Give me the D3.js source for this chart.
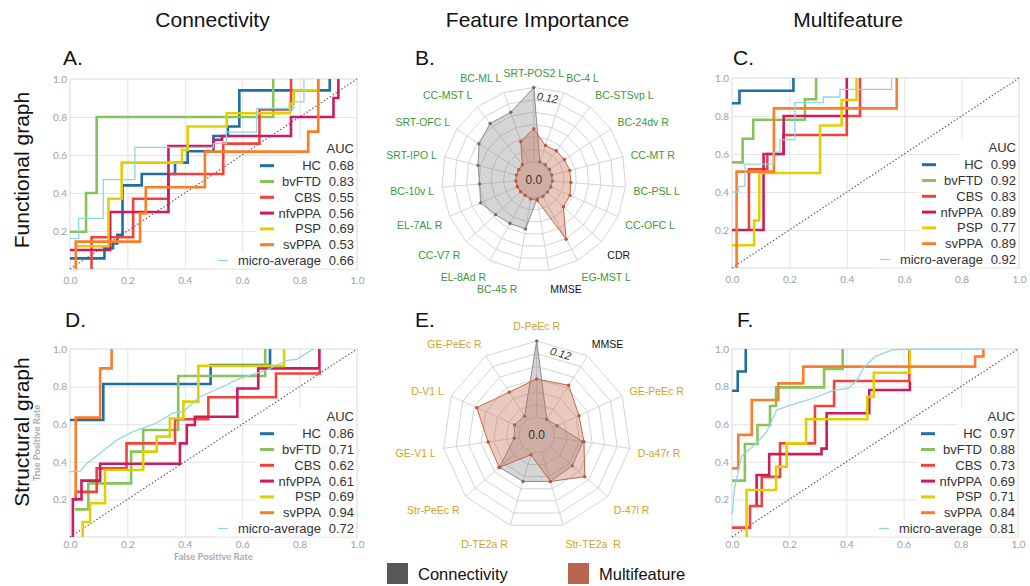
<!DOCTYPE html>
<html>
<head>
<meta charset="utf-8">
<script src="https://cdn.jsdelivr.net/npm/d3@7"></script>
<style>
  body { margin: 0; background: #fff; }
  text { font-family: "Liberation Sans", Arial, sans-serif; }
  .tick text { font-family: Lato, "Open Sans", sans-serif; }
</style>
</head>
<body>
<div id="chart"></div>
<script>
var width = 1030,
    height = 586;

// ---- ROC data: one [fpr, tpr] step list per class, in legend order ----
var classes = ["HC", "bvFTD", "CBS", "nfvPPA", "PSP", "svPPA", "micro-average"];
var colors = ["#1f6fa5", "#86c35b", "#f2433b", "#cc1b60", "#e0d000", "#fc7c28", "#8fd5e6"];

var rocA = [
  [[0,0.056],[0.12,0.11],[0.15,0.135],[0.165,0.18],[0.183,0.44],[0.25,0.5],[0.366,0.56],[0.41,0.62],[0.5,0.7],[0.55,0.75],[0.59,0.94],[0.905,1.0]],
  [[0,0.196],[0.056,0.4],[0.093,0.8],[0.708,1.0]],
  [[0.075,0],[0.075,0.167],[0.22,0.37],[0.343,0.5],[0.534,0.66],[0.66,0.84],[0.77,1.0]],
  [[0,0.1],[0.14,0.3],[0.343,0.647],[0.5,0.68],[0.53,0.7],[0.77,0.8],[0.918,0.9],[0.935,1.0]],
  [[0.02,0.12],[0.134,0.37],[0.18,0.56],[0.39,0.626],[0.41,0.75],[0.546,0.82],[0.766,0.87],[0.78,0.94],[0.865,1.0]],
  [[0.02,0],[0.02,0.144],[0.244,0.293],[0.264,0.43],[0.47,0.618],[0.83,0.723],[0.865,1.0]],
  [[0,0.16],[0.03,0.266],[0.116,0.47],[0.226,0.64],[0.5,0.66],[0.545,0.72],[0.65,0.845],[0.78,0.88],[0.815,1.0]]
];
var aucA = [0.68, 0.83, 0.55, 0.56, 0.69, 0.53, 0.66];

var rocC = [
  [[0,0.867],[0.026,0.933],[0.214,1.0]],
  [[0,0.556],[0.037,0.68],[0.074,0.78],[0.254,0.888],[0.293,1.0]],
  [[0.059,0.2],[0.059,0.52],[0.123,0.6],[0.179,0.7],[0.4,0.8],[0.446,1.0]],
  [[0,0.2],[0.11,0.6],[0.18,0.8],[0.4,1.0]],
  [[0,0.12],[0.077,0.25],[0.095,0.5],[0.307,0.75],[0.382,0.884],[0.434,1.0]],
  [[0.016,0],[0.016,0.507],[0.146,0.84],[0.574,1.0]],
  [[0,0.4],[0.022,0.43],[0.045,0.547],[0.144,0.61],[0.167,0.676],[0.219,0.87],[0.318,0.9],[0.376,0.94],[0.556,1.0]]
];
var aucC = [0.99, 0.92, 0.83, 0.89, 0.77, 0.89, 0.92];

var rocD = [
  [[0,0.622],[0.116,0.814],[0.49,0.915],[0.697,1.0]],
  [[0.017,0.147],[0.064,0.285],[0.213,0.454],[0.255,0.569],[0.377,0.856],[0.68,1.0]],
  [[0.02,0.2],[0.02,0.24],[0.093,0.365],[0.197,0.498],[0.366,0.626],[0.482,0.743],[0.718,0.87],[0.87,0.888]],
  [[0.01,0],[0.01,0.2],[0.04,0.3],[0.105,0.39],[0.383,0.498],[0.407,0.596],[0.435,0.64],[0.583,0.79],[0.656,0.897],[0.869,1.0]],
  [[0.044,0],[0.044,0.08],[0.07,0.18],[0.122,0.356],[0.255,0.454],[0.302,0.534],[0.348,0.63],[0.395,0.72],[0.447,0.91],[0.746,1.0]],
  [[0.02,0.215],[0.02,0.635],[0.105,0.897],[0.145,1.0]],
  [[0,0.347],[0.035,0.35],[0.058,0.39],[0.105,0.445],[0.163,0.516],[0.22,0.56],[0.3,0.605],[0.36,0.66],[0.395,0.667],[0.453,0.746],[0.546,0.81],[0.592,0.844],[0.685,0.888],[0.755,0.94],[0.79,0.945],[0.848,1.0]]
];
var aucD = [0.86, 0.71, 0.62, 0.61, 0.69, 0.94, 0.72];

var rocF = [
  [[0,0.778],[0.02,0.88],[0.048,1.0]],
  [[0,0.3],[0.045,0.495],[0.089,0.596],[0.133,0.697],[0.154,0.796],[0.322,0.894],[0.387,1.0]],
  [[0,0.05],[0.063,0.165],[0.104,0.32],[0.168,0.498],[0.29,0.697],[0.357,0.83],[0.62,1.0]],
  [[0.086,0.17],[0.086,0.33],[0.13,0.441],[0.313,0.47],[0.331,0.658],[0.48,0.782],[0.622,0.826]],
  [[0.051,0],[0.051,0.25],[0.154,0.374],[0.191,0.498],[0.259,0.626],[0.473,0.746],[0.496,0.874],[0.622,1.0]],
  [[0,0.365],[0.022,0.543],[0.069,0.729],[0.162,0.817],[0.249,0.906],[0.85,0.96],[0.879,1.0]],
  [[0,0.12],[0.01,0.27],[0.034,0.43],[0.086,0.5],[0.121,0.56],[0.156,0.676],[0.203,0.7],[0.284,0.738],[0.354,0.78],[0.407,0.79],[0.44,0.84],[0.46,0.9],[0.5,0.96],[0.56,0.995],[0.64,1.0],[0.88,1.0]]
];
var aucF = [0.97, 0.88, 0.73, 0.69, 0.71, 0.84, 0.81];

var rocTicks = [0.0, 0.2, 0.4, 0.6, 0.8, 1.0];

// ---- radar data (feature importance) ----
var featuresB = ["SRT-POS2 L", "BC-4 L", "BC-STSvp L", "BC-24dv R", "CC-MT R", "BC-PSL L", "CC-OFC L", "CDR",
  "EG-MST L", "MMSE", "BC-45 R", "EL-8Ad R", "CC-V7 R", "EL-7AL R", "BC-10v L", "SRT-IPO L", "SRT-OFC L", "CC-MST L", "BC-ML L"];
var connB = [0.12, 0.001, 0.001, 0.001, 0.001, 0.001, 0.001, 0.001, 0.002, 0.003, 0.052, 0.052, 0.055, 0.065, 0.059, 0.064, 0.077, 0.086, 0.086];
var multiB = [0.053, 0.029, 0.030, 0.030, 0.031, 0.031, 0.035, 0.036, 0.081, 0.005, 0.003, 0, 0, 0, 0, 0, 0, 0.001, 0.036];

var featuresE = ["D-PeEc R", "MMSE", "GE-PeEc R", "D-a47r R", "D-47l R", "Str-TE2a  R", "D-TE2a R", "Str-PeEc R", "GE-V1 L", "D-V1 L", "GE-PeEc R"];
var connE = [0.12, 0.001, 0.007, 0.045, 0.046, 0.048, 0.048, 0.0495, 0.0075, 0.01, 0.007];
var multiE = [0.060, 0.065, 0.045, 0.047, 0.072, 0.048, 0.004, 0.050, 0.049, 0.0756, 0.052];

var clinical = ["CDR", "MMSE"];
var radarMax = 0.12;

var svg = d3.select("#chart")
    .append("svg")
    .attr("width", width)
    .attr("height", height);

var fmt1 = d3.format(".1f"),
    fmt2 = d3.format(".2f");

function rocPanel(p) {
  var x = d3.scaleLinear().domain([0, 1]).range([p.x0, p.x1]);
  var y = d3.scaleLinear().domain([0, 1]).range([p.yBot, p.yTop]);
  var g = svg.append("g");

  // grid
  g.append("g")
      .attr("transform", "translate(0," + p.yBot + ")")
      .call(d3.axisBottom(x).tickValues([0.2, 0.4, 0.6, 0.8]).tickSize(-(p.yBot - p.yTop)).tickFormat(""))
      .call(function(a) { a.select(".domain").remove(); a.selectAll("line").attr("stroke", "#e4e4e4"); });
  g.append("g")
      .attr("transform", "translate(" + p.x0 + ",0)")
      .call(d3.axisLeft(y).tickValues([0.2, 0.4, 0.6, 0.8]).tickSize(-(p.x1 - p.x0)).tickFormat(""))
      .call(function(a) { a.select(".domain").remove(); a.selectAll("line").attr("stroke", "#e4e4e4"); });

  g.append("rect")
      .attr("x", p.x0).attr("y", p.yTop)
      .attr("width", p.x1 - p.x0).attr("height", p.yBot - p.yTop)
      .attr("fill", "none").attr("stroke", "#d9d9d9");

  // tick labels
  g.append("g")
      .attr("transform", "translate(0," + p.yBot + ")")
      .call(d3.axisBottom(x).tickValues(rocTicks).tickSize(0).tickPadding(p.xPad).tickFormat(fmt1))
      .call(function(a) { a.select(".domain").remove(); a.selectAll("text").attr("fill", "#a0a0a0").style("font-size", "10px"); });
  g.append("g")
      .attr("transform", "translate(" + p.x0 + ",0)")
      .call(d3.axisLeft(y).tickValues(rocTicks.slice(1)).tickSize(0).tickPadding(3).tickFormat(fmt1))
      .call(function(a) { a.select(".domain").remove(); a.selectAll("text").attr("fill", "#a0a0a0").style("font-size", "10px"); });

  // legend backgrounds (white boxes hide the grid)
  var rowY = function(i) { return p.yBot - 8.5 - (6 - i) * 15.8; };
  var lg = g.append("g");
  lg.append("rect").attr("x", p.x1 - 60).attr("y", rowY(0) - 17 - 8).attr("width", 59).attr("height", 17).attr("fill", "#fff");
  classes.forEach(function(c, i) {
    var left = i === 6 ? p.x1 - 143 : p.x1 - 101;
    lg.append("rect").attr("x", left).attr("y", rowY(i) - 8).attr("width", p.x1 - 1 - left).attr("height", 16).attr("fill", "#fff");
  });

  // chance diagonal
  g.append("line")
      .attr("x1", x(0)).attr("y1", y(0)).attr("x2", x(1)).attr("y2", y(1))
      .attr("stroke", "#555").attr("stroke-width", 1.1).attr("stroke-dasharray", "1.5,2");

  var stepLine = d3.line().x(function(d) { return x(d[0]); }).y(function(d) { return y(d[1]); }).curve(d3.curveStepAfter);
  var smoothLine = d3.line().x(function(d) { return x(d[0]); }).y(function(d) { return y(d[1]); });

  p.curves.forEach(function(pts, i) {
    var micro = i === 6;
    g.append("path")
        .datum(pts)
        .attr("d", micro && p.microLinear ? smoothLine : stepLine)
        .attr("fill", "none")
        .attr("stroke", colors[i])
        .attr("stroke-width", micro ? 1.3 : 2.6);
  });

  // legend text
  lg = g.append("g").style("font-size", "13px").attr("fill", "#333");
  lg.append("text").attr("x", p.x1 - 3).attr("y", rowY(0) - 17).attr("dy", "0.35em").attr("text-anchor", "end").text("AUC");
  classes.forEach(function(c, i) {
    var cy = rowY(i);
    if (i === 6) {
      lg.append("line").attr("x1", p.x1 - 139).attr("x2", p.x1 - 129).attr("y1", cy).attr("y2", cy)
          .attr("stroke", colors[i]).attr("stroke-width", 1.3);
    } else {
      lg.append("line").attr("x1", p.x1 - 97).attr("x2", p.x1 - 83).attr("y1", cy).attr("y2", cy)
          .attr("stroke", colors[i]).attr("stroke-width", 3);
    }
    lg.append("text").attr("x", p.x1 - 36).attr("y", cy).attr("dy", "0.35em").attr("text-anchor", "end").text(c);
    lg.append("text").attr("x", p.x1 - 3).attr("y", cy).attr("dy", "0.35em").attr("text-anchor", "end").text(fmt2(p.auc[i]));
  });

  if (p.axisTitles) {
    g.append("text")
        .attr("transform", "translate(40," + ((p.yTop + p.yBot) / 2) + ") rotate(-90)")
        .attr("text-anchor", "middle")
        .style("font-size", "9.5px").style("font-weight", "bold").attr("fill", "#ababab")
        .style("font-family", "Lato, 'Open Sans', sans-serif")
        .text("True Positive Rate");
    g.append("text")
        .attr("x", (p.x0 + p.x1) / 2 - 0).attr("y", p.yBot + 23)
        .attr("text-anchor", "middle")
        .style("font-size", "9.5px").style("font-weight", "bold").attr("fill", "#ababab")
        .style("font-family", "Lato, 'Open Sans', sans-serif")
        .text("False Positive Rate");
  }
}

function radarPanel(p) {
  var n = p.features.length,
      step = 2 * Math.PI / n;
  var r = d3.scaleLinear().domain([0, radarMax]).range([p.r0, p.R]);
  var g = svg.append("g").attr("transform", "translate(" + p.cx + "," + p.cy + ")");
  var idx = d3.range(n);

  // polygon rings
  var ringLevels = d3.range(0, radarMax + 1e-9, radarMax / 6);
  var ring = d3.lineRadial().angle(function(i) { return i * step; }).curve(d3.curveLinearClosed);
  ringLevels.forEach(function(v) {
    g.append("path")
        .attr("d", ring.radius(r(v))(idx))
        .attr("fill", "none").attr("stroke", "#d4d4d4").attr("stroke-width", 1);
  });
  idx.forEach(function(i) {
    var a = i * step;
    g.append("line")
        .attr("x1", r(0) * Math.sin(a)).attr("y1", -r(0) * Math.cos(a))
        .attr("x2", p.R * Math.sin(a)).attr("y2", -p.R * Math.cos(a))
        .attr("stroke", "#d4d4d4");
  });

  var area = d3.lineRadial()
      .angle(function(d, i) { return i * step; })
      .radius(function(d) { return r(d); })
      .curve(d3.curveLinearClosed);

  [[p.conn, "rgba(125,125,125,0.32)", "#8c8c8c", "#6f6f6f"],
   [p.multi, "rgba(196,112,86,0.38)", "#c2674d", "#c0553a"]].forEach(function(s) {
    g.append("path").attr("d", area(s[0])).attr("fill", s[1]).attr("stroke", s[2]).attr("stroke-width", 1);
    g.selectAll(null).data(s[0]).enter().append("circle")
        .attr("cx", function(d, i) { return r(d) * Math.sin(i * step); })
        .attr("cy", function(d, i) { return -r(d) * Math.cos(i * step); })
        .attr("r", 1.7)
        .attr("fill", s[3]);
  });

  // radial tick labels
  g.append("text").attr("text-anchor", "middle").attr("dy", "0.35em")
      .style("font-size", "12px").attr("fill", "#333").text("0.0");
  var ta = step / 2, tr = p.R - 9;
  g.append("text")
      .attr("transform", "translate(" + (tr * Math.sin(ta)) + "," + (-tr * Math.cos(ta)) + ") rotate(" + (ta * 180 / Math.PI) + ")")
      .attr("text-anchor", "middle").attr("dy", "0.35em")
      .style("font-size", "11px").style("font-style", "italic").attr("fill", "#333")
      .text(fmt2(radarMax));

  // axis labels
  g.selectAll(null).data(p.features).enter().append("text")
      .attr("x", function(d, i) { return (p.R + 8) * Math.sin(i * step); })
      .attr("y", function(d, i) { return -(p.R + 8) * Math.cos(i * step) + 6 - 9 * Math.cos(i * step); })
      .attr("text-anchor", function(d, i) {
        var s = Math.sin(i * step);
        return s > 0.12 ? "start" : (s < -0.12 ? "end" : "middle");
      })
      .style("font-size", "10.5px")
      .style("white-space", "pre")
      .attr("fill", function(d) { return clinical.indexOf(d) >= 0 ? "#111" : p.labelColor; })
      .text(function(d) { return d; });
}

rocPanel({ x0: 70, x1: 357, yTop: 79, yBot: 269, curves: rocA, auc: aucA, xPad: 7.5, microLinear: false });
rocPanel({ x0: 732, x1: 1019, yTop: 78, yBot: 268, curves: rocC, auc: aucC, xPad: 7.5, microLinear: false });
rocPanel({ x0: 70, x1: 357, yTop: 349, yBot: 537, curves: rocD, auc: aucD, xPad: 3.5, microLinear: true, axisTitles: true });
rocPanel({ x0: 732, x1: 1018, yTop: 349, yBot: 537, curves: rocF, auc: aucF, xPad: 3.5, microLinear: true });

radarPanel({ cx: 533.8, cy: 179.5, R: 92, r0: 18, features: featuresB, conn: connB, multi: multiB, labelColor: "#3a983a" });
radarPanel({ cx: 536.7, cy: 435, R: 94, r0: 18, features: featuresE, conn: connE, multi: multiE, labelColor: "#d4a12a" });

// titles, row labels, panel letters
var big = svg.append("g").attr("fill", "#111").style("font-size", "21px");
[["Connectivity", 212.5], ["Feature Importance", 537.5], ["Multifeature", 848]].forEach(function(t) {
  big.append("text").attr("x", t[1]).attr("y", 27).attr("text-anchor", "middle").text(t[0]);
});
[["Functional graph", 170], ["Structural graph", 432]].forEach(function(t) {
  big.append("text").attr("transform", "translate(29," + t[1] + ") rotate(-90)").attr("text-anchor", "middle").text(t[0]);
});
[["A.", 63, 65], ["B.", 415, 65], ["C.", 733, 65], ["D.", 65, 327], ["E.", 415, 327], ["F.", 737, 327]].forEach(function(t) {
  big.append("text").attr("x", t[1]).attr("y", t[2]).text(t[0]);
});

// bottom legend
var leg = svg.append("g").style("font-size", "16.5px").attr("fill", "#111");
[["Connectivity", "#58585a", 387], ["Multifeature", "#b86650", 568]].forEach(function(t) {
  leg.append("rect").attr("x", t[2]).attr("y", 563).attr("width", 21).attr("height", 21).attr("fill", t[1]);
  leg.append("text").attr("x", t[2] + 31).attr("y", 580).text(t[0]);
});
</script>
</body>
</html>
